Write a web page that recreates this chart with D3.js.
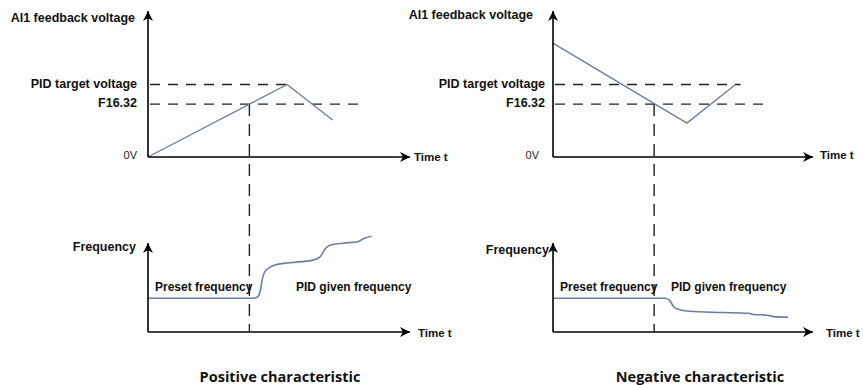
<!DOCTYPE html>
<html lang="en">
<head>
    <meta charset="UTF-8">
    <script src="https://d3js.org/d3.v7.min.js"></script>
    <style>
        body { margin: 0; background: #fff; }
        .lbl { font-family: "Liberation Sans", Arial, sans-serif; font-weight: bold; font-size: 12.5px; fill: #111; }
        .small { font-family: "Liberation Sans", Arial, sans-serif; font-size: 11px; fill: #222; }
        .cap { font-family: "Open Sans", sans-serif; font-weight: bold; font-size: 14.5px; fill: #111; }
    </style>
</head>
<body>
<svg width="863" height="385" id="chart"></svg>
<script>
// Data (time 0-10, voltage 0-10, frequency 0-100)
const levelNames = ["PID target voltage", "F16.32"];
const levelValues = [5.0, 3.65];
const zeroLabel = "0V";

const posVoltage = [[0, 0], [5.35, 5.0], [7.1, 2.55]];
const negVoltage = [[0, 7.86], [5.19, 2.34], [7.05, 4.97]];

const posLevelEnds = [5.45, 8.23];
const negLevelEnds = [7.27, 8.23];

const posSwitch = 3.9;
const negSwitch = 3.92;

const posFrequency = [[0, 38], [4.04, 38], [4.22, 39.5], [4.33, 48], [4.4, 60], [4.55, 70], [4.9, 75.5],
    [5.46, 77.9], [6.3, 80.5], [6.62, 84.5], [6.8, 93], [7.0, 97.5], [7.5, 99.8], [8.08, 101.5], [8.3, 105], [8.6, 107.5]];
const negFrequency = [[0, 38], [4.35, 38], [4.54, 35], [4.66, 29], [4.85, 25.5], [5.27, 23.3], [6.54, 21.9],
    [7.58, 21], [7.77, 19.7], [8.31, 18.9], [8.54, 17.3], [9.12, 16.6]];

const captions = ["Positive characteristic", "Negative characteristic"];

const svg = d3.select("#chart");

svg.append("defs").append("marker")
    .attr("id", "arrow")
    .attr("viewBox", "0 0 10 10")
    .attr("refX", 10).attr("refY", 5)
    .attr("markerUnits", "userSpaceOnUse")
    .attr("markerWidth", 12).attr("markerHeight", 10)
    .attr("orient", "auto")
    .append("path")
    .attr("d", "M0,0 L10,5 L0,10 L3,5 Z")
    .attr("fill", "#000");

const yV = d3.scaleLinear().domain([0, 10]).range([157, 12]);
const yF = d3.scaleLinear().domain([0, 100]).range([332, 243]);

const panels = [
    { x0: 148, x1: 410, voltage: posVoltage, freq: posFrequency, ends: posLevelEnds, sw: posSwitch,
      labelGap: 11, zeroGap: 11, titleEnd: 135, titleY: 19, freqEnd: 136, freqY: 248,
      timeTopX: 414, timeTopY: 158, timeBotX: 418, timeBotY: 334, pidX: 296, caption: captions[0], capX: 280 },
    { x0: 553, x1: 813, voltage: negVoltage, freq: negFrequency, ends: negLevelEnds, sw: negSwitch,
      labelGap: 8, zeroGap: 14, titleEnd: 533, titleY: 16, freqEnd: 549, freqY: 251,
      timeTopX: 820, timeTopY: 156, timeBotX: 826, timeBotY: 334, pidX: 671, caption: captions[1], capX: 700 }
];

panels.forEach(function(p) {
    const x = d3.scaleLinear().domain([0, 10]).range([p.x0, p.x1 - 2]);
    const g = svg.append("g");

    // level dashes
    levelValues.forEach(function(v, i) {
        g.append("line")
            .attr("x1", x(0) + 2).attr("x2", x(p.ends[i]))
            .attr("y1", yV(v)).attr("y2", yV(v))
            .attr("stroke", "#222").attr("stroke-width", 1.4)
            .attr("stroke-dasharray", "10,8");
        g.append("text").attr("class", "lbl")
            .attr("x", x(0) - p.labelGap).attr("y", yV(v))
            .attr("text-anchor", "end").attr("dominant-baseline", "middle")
            .text(levelNames[i]);
    });

    // switch point dashed vertical
    g.append("line")
        .attr("x1", x(p.sw)).attr("x2", x(p.sw))
        .attr("y1", yV(levelValues[1])).attr("y2", yF(0))
        .attr("stroke", "#222").attr("stroke-width", 1.4)
        .attr("stroke-dasharray", "12,8");

    // voltage line
    g.append("path")
        .datum(p.voltage)
        .attr("d", d3.line().x(d => x(d[0])).y(d => yV(d[1])))
        .attr("fill", "none").attr("stroke", "#6a7fa3").attr("stroke-width", 1.4);

    // frequency curve
    g.append("path")
        .datum(p.freq)
        .attr("d", d3.line().x(d => x(d[0])).y(d => yF(d[1])).curve(d3.curveMonotoneX))
        .attr("fill", "none").attr("stroke", "#6a7fa3").attr("stroke-width", 1.6);

    // axes with arrows
    [[yV, 11], [yF, 243]].forEach(function(a) {
        const yS = a[0];
        g.append("line")
            .attr("x1", x(0)).attr("x2", x(0))
            .attr("y1", yS(0)).attr("y2", a[1])
            .attr("stroke", "#000").attr("stroke-width", 1.6)
            .attr("marker-end", "url(#arrow)");
        g.append("line")
            .attr("x1", x(0)).attr("x2", p.x1)
            .attr("y1", yS(0)).attr("y2", yS(0))
            .attr("stroke", "#000").attr("stroke-width", 1.6)
            .attr("marker-end", "url(#arrow)");
    });

    // axis labels
    g.append("text").attr("class", "lbl")
        .attr("x", p.titleEnd).attr("y", p.titleY)
        .attr("text-anchor", "end").attr("dominant-baseline", "middle")
        .text("AI1 feedback voltage");
    g.append("text").attr("class", "small")
        .attr("x", x(0) - p.zeroGap).attr("y", yV(0) - 1)
        .attr("text-anchor", "end").attr("dominant-baseline", "middle")
        .text(zeroLabel);
    g.append("text").attr("class", "lbl").style("font-size", "11.5px")
        .attr("x", p.timeTopX).attr("y", p.timeTopY)
        .attr("dominant-baseline", "middle")
        .text("Time t");
    g.append("text").attr("class", "lbl").style("font-size", "11.5px")
        .attr("x", p.timeBotX).attr("y", p.timeBotY)
        .attr("dominant-baseline", "middle")
        .text("Time t");
    g.append("text").attr("class", "lbl")
        .attr("x", p.freqEnd).attr("y", p.freqY)
        .attr("text-anchor", "end").attr("dominant-baseline", "middle")
        .text("Frequency");
    g.append("text").attr("class", "lbl").style("font-size", "12px")
        .attr("x", x(0) + 7).attr("y", 288)
        .attr("dominant-baseline", "middle")
        .text("Preset frequency");
    g.append("text").attr("class", "lbl").style("font-size", "12px")
        .attr("x", p.pidX).attr("y", 288)
        .attr("dominant-baseline", "middle")
        .text("PID given frequency");

    g.append("text").attr("class", "cap")
        .attr("x", p.capX).attr("y", 382)
        .attr("text-anchor", "middle")
        .text(p.caption);
});
</script>
</body>
</html>
